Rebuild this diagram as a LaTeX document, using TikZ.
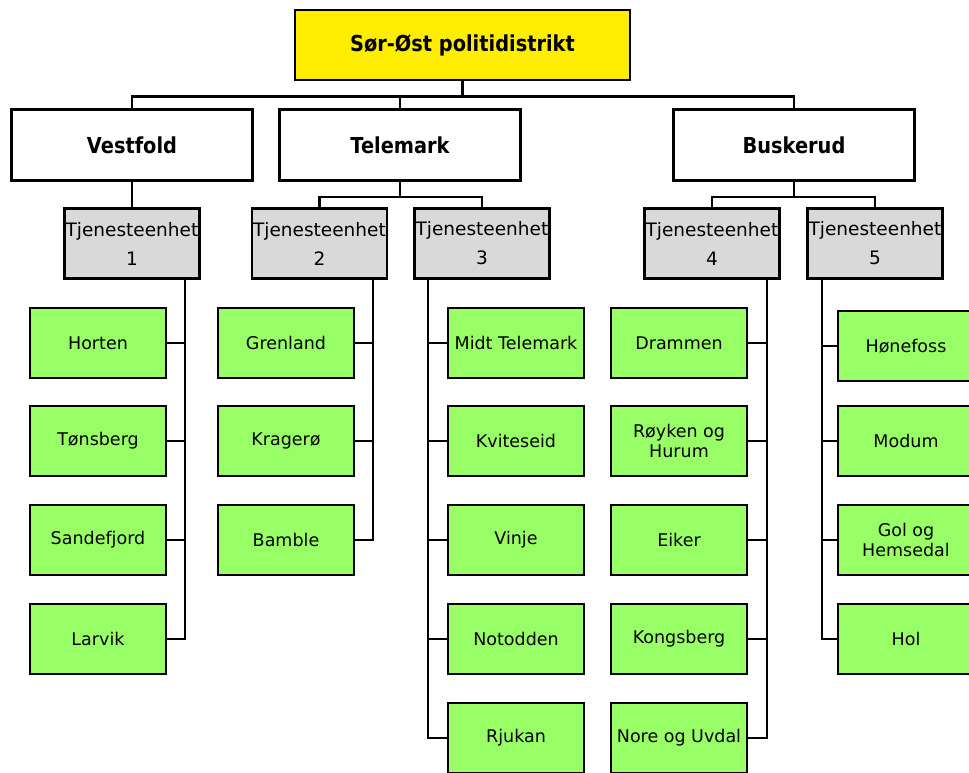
\documentclass[tikz,border=0pt]{standalone}
\usepackage{fontspec}
\setmainfont{DejaVu Sans}
\newfontfamily\headfont[FakeStretch=0.88]{DejaVu Sans}
\usepackage{tikz}
\definecolor{distrikt}{RGB}{255,237,0}
\definecolor{enhet}{RGB}{217,217,217}
\definecolor{stasjon}{RGB}{153,255,102}
\begin{document}
\begin{tikzpicture}[x=1pt, y=-1pt, line width=2.6pt]
\tikzstyle{box}=[draw, rectangle, inner sep=0pt, align=center]
\tikzstyle{top}=[box, fill=distrikt, minimum width=335pt, minimum height=70pt, font=\headfont\bfseries\fontsize{22}{24}\selectfont]
\tikzstyle{fylke}=[box, fill=white, minimum width=241pt, minimum height=71pt, font=\headfont\bfseries\fontsize{22}{24}\selectfont]
\tikzstyle{enhet}=[box, fill=enhet, minimum width=135pt, minimum height=70pt, font=\fontsize{18.5}{29}\selectfont]
\tikzstyle{stasjon}=[box, fill=stasjon, minimum width=136pt, minimum height=70pt, font=\fontsize{17.5}{20}\selectfont]
\useasboundingbox (0,0) rectangle (969,773);

\node[top] (root) at (462.5,45) {Sør-Øst politidistrikt};
\node[fylke] (vestfold) at (132,145) {Vestfold};
\node[fylke] (telemark) at (400,145) {Telemark};
\node[fylke] (buskerud) at (794,145) {Buskerud};

\node[enhet] (te1) at (132,243.5) {Tjenesteenhet\\1};
\node[enhet] (te2) at (319.5,243.5) {Tjenesteenhet\\2};
\node[enhet] (te3) at (482,243.5) {Tjenesteenhet\\3};
\node[enhet] (te4) at (712,243.5) {Tjenesteenhet\\4};
\node[enhet] (te5) at (875,243.5) {Tjenesteenhet\\5};

\node[stasjon] (horten) at (98,343) {Horten};
\node[stasjon] (tonsberg) at (98,441) {Tønsberg};
\node[stasjon] (sandefjord) at (98,540) {Sandefjord};
\node[stasjon] (larvik) at (98,639) {Larvik};

\node[stasjon] (grenland) at (286,343) {Grenland};
\node[stasjon] (kragero) at (286,441) {Kragerø};
\node[stasjon] (bamble) at (286,540) {Bamble};

\node[stasjon] (midt) at (516,343) {Midt Telemark};
\node[stasjon] (kviteseid) at (516,441) {Kviteseid};
\node[stasjon] (vinje) at (516,540) {Vinje};
\node[stasjon] (notodden) at (516,639) {Notodden};
\node[stasjon] (rjukan) at (516,738) {Rjukan};

\node[stasjon] (drammen) at (679,343) {Drammen};
\node[stasjon] (royken) at (679,441) {Røyken og\\Hurum};
\node[stasjon] (eiker) at (679,540) {Eiker};
\node[stasjon] (kongsberg) at (679,639) {Kongsberg};
\node[stasjon] (nore) at (679,738) {Nore og Uvdal};

\node[stasjon] (honefoss) at (906,346) {Hønefoss};
\node[stasjon] (modum) at (906,441) {Modum};
\node[stasjon] (gol) at (906,540) {Gol og\\Hemsedal};
\node[stasjon] (hol) at (906,639) {Hol};

\draw (root.south) -- ++(0,15) coordinate (bus0);
\draw (vestfold.north) |- (bus0);
\draw (telemark.north) |- (bus0);
\draw (buskerud.north) |- (bus0);

\draw (vestfold.south) -- (te1.north);
\draw (telemark.south) -- ++(0,15) coordinate (bus1);
\draw (te2.north) |- (bus1);
\draw (te3.north) |- (bus1);
\draw (buskerud.south) -- ++(0,15) coordinate (bus2);
\draw (te4.north) |- (bus2);
\draw (te5.north) |- (bus2);

\coordinate (s1) at (185,278.5);
\coordinate (s2) at (373,278.5);
\coordinate (s3) at (428,278.5);
\coordinate (s4) at (767,278.5);
\coordinate (s5) at (822,278.5);

\draw (s1) |- (larvik.east);
\foreach \n in {horten, tonsberg, sandefjord}
  \draw (\n.east) -- (\n.east -| s1);
\draw (s2) |- (bamble.east);
\foreach \n in {grenland, kragero}
  \draw (\n.east) -- (\n.east -| s2);
\draw (s3) |- (rjukan.west);
\foreach \n in {midt, kviteseid, vinje, notodden}
  \draw (\n.west) -- (\n.west -| s3);
\draw (s4) |- (nore.east);
\foreach \n in {drammen, royken, eiker, kongsberg}
  \draw (\n.east) -- (\n.east -| s4);
\draw (s5) |- (hol.west);
\foreach \n in {honefoss, modum, gol}
  \draw (\n.west) -- (\n.west -| s5);
\end{tikzpicture}
\end{document}
